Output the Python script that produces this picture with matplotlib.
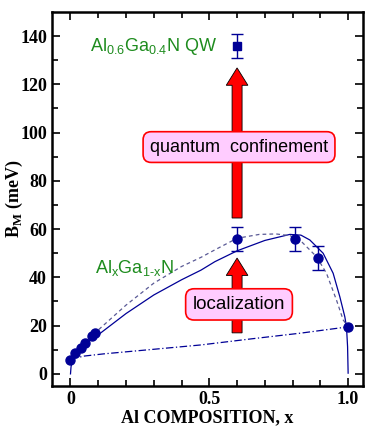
import numpy as np
import matplotlib
matplotlib.use("Agg")
import matplotlib.pyplot as plt
from matplotlib.patches import FancyArrow

plt.rcParams['mathtext.fontset'] = 'custom'
plt.rcParams['mathtext.rm'] = 'Liberation Sans'
plt.rcParams['mathtext.bf'] = 'Liberation Serif:bold'

NAVY = '#000096'
GREEN = '#1e8c1e'

# AlGaN bulk data (composition x, B_M in meV)
x_low = [0.0, 0.018, 0.037, 0.054, 0.078, 0.09]
b_low = [5.8, 8.6, 10.9, 12.7, 15.5, 16.8]
x_err = [0.6, 0.81, 0.89]
b_err = [56, 56, 48]
e_err = [5, 5, 5]
x_aln = [1.0]
b_aln = [19.5]

# quantum well
x_qw = [0.6]
b_qw = [136]
e_qw = [5]

# fit curves
x_solid = [0.0, 0.002, 0.006, 0.015, 0.04, 0.07, 0.1, 0.2, 0.3, 0.4, 0.47, 0.52, 0.6,
           0.7, 0.79, 0.83, 0.862, 0.91, 0.946, 0.97, 0.988, 0.994, 0.998, 1.0]
b_solid = [0.0, 3.0, 5.0, 7.0, 10.5, 13.8, 16.2, 25.0, 32.7, 39.0, 43.0, 46.5, 51.0,
           55.3, 57.8, 57.5, 55.5, 50.0, 41.7, 32.0, 23.7, 19.6, 11.3, 0.3]
x_dash = [0.0, 0.02, 0.05, 0.1, 0.2, 0.3, 0.4, 0.47, 0.52, 0.6, 0.68, 0.74,
          0.79, 0.826, 0.886, 0.922, 0.958, 0.982, 1.0]
b_dash = [6.0, 9.2, 13.0, 18.2, 28.5, 37.6, 44.5, 48.3, 51.4, 56.2, 57.8, 58.0,
          57.3, 55.5, 48.6, 41.7, 30.6, 22.4, 19.5]
x_dd = [0.0, 0.015, 0.05, 0.12, 0.3, 0.47, 0.65, 0.83, 1.0]
b_dd = [6.0, 6.5, 7.4, 8.3, 10.2, 12.0, 14.5, 16.9, 19.5]

xticks = [0, 0.5, 1.0]
xticklabels = ['0', '0.5', '1.0']
yticks = [0, 20, 40, 60, 80, 100, 120, 140]

fig = plt.figure(figsize=(3.68, 4.26), dpi=100)
ax = fig.add_axes([0.141, 0.094, 0.845, 0.878])

ax.plot(x_solid, b_solid, '-', color=NAVY, lw=0.9, zorder=2)
ax.plot(x_dash, b_dash, '--', color='#5a5a96', lw=0.9, dashes=(3, 2.5), zorder=2)
ax.plot(x_dd, b_dd, '-.', color=NAVY, lw=0.9, dashes=(6, 2, 1, 2), zorder=2)

ax.plot(x_low, b_low, 'o', color=NAVY, ms=6.5, zorder=4)
ax.plot(x_aln, b_aln, 'o', color=NAVY, ms=6.5, zorder=4)
ax.errorbar(x_err, b_err, yerr=e_err, fmt='o', color=NAVY, ms=6.5,
            capsize=4.5, elinewidth=1, capthick=1, zorder=4)
ax.errorbar(x_qw, b_qw, yerr=e_qw, fmt='s', color=NAVY, ms=6,
            capsize=4.5, elinewidth=1, capthick=1, zorder=4)

# arrows
ax.add_patch(FancyArrow(0.6, 64.6, 0, 62.2, width=0.036, head_width=0.078,
                        head_length=7.2, length_includes_head=True,
                        fc='#ff0000', ec='black', lw=0.6, zorder=3))
ax.add_patch(FancyArrow(0.6, 17, 0, 31, width=0.036, head_width=0.078,
                        head_length=7.2, length_includes_head=True,
                        fc='#ff0000', ec='black', lw=0.6, zorder=3))

box = dict(boxstyle='round,pad=0.38,rounding_size=0.45', fc='#ffccff', ec='#ff0000', lw=1.2)
ax.text(0.607, 94, 'quantum  confinement', ha='center', va='center', fontsize=13,
        family='Liberation Sans', bbox=box, zorder=5)
ax.text(0.607, 28.8, 'localization', ha='center', va='center', fontsize=13.5,
        family='Liberation Sans', bbox=box, zorder=5)

ax.text(0.07, 135.5, r'Al$_{\mathrm{0.6}}$Ga$_{\mathrm{0.4}}$N QW', color=GREEN, fontsize=13,
        family='Liberation Sans', ha='left', va='center')
ax.text(0.088, 44, 'Al$_{\\mathrm{x}}$Ga$_{\\mathrm{1\u2010x}}$N', color=GREEN,
        fontsize=13, family='Liberation Sans', ha='left', va='center')

ax.set_xlim(-0.067, 1.053)
ax.set_ylim(-5, 150)
ax.set_xticks(xticks)
ax.set_xticklabels(xticklabels)
ax.set_xticks(np.arange(0, 1.01, 0.1), minor=True)
ax.set_yticks(yticks)
ax.set_yticks(np.arange(0, 150, 10), minor=True)
ax.tick_params(which='both', direction='in', top=True, right=True, width=1.2)
ax.tick_params(which='major', length=6)
ax.tick_params(which='minor', length=4)
for lab in ax.get_xticklabels() + ax.get_yticklabels():
    lab.set_family('Liberation Serif')
    lab.set_fontweight('bold')
    lab.set_fontsize(13)
for s in ax.spines.values():
    s.set_linewidth(1.8)

ax.set_xlabel('Al COMPOSITION, x', family='Liberation Serif', fontweight='bold',
              fontsize=13, labelpad=1)
ax.set_ylabel(r'$\mathbf{B}_{\mathbf{M}}$ (meV)', family='Liberation Serif',
              fontweight='bold', fontsize=13)
ax.yaxis.set_label_coords(-0.087, 0.5)

fig.savefig('out.png', dpi=100)
